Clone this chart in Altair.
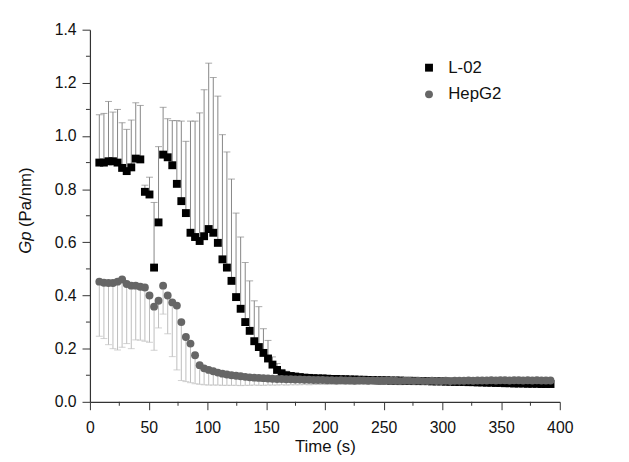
import altair as alt
import pandas as pd

# ---------------- data ----------------
time_s = [8.0, 11.9, 15.8, 19.6, 23.5, 27.4, 31.3, 35.2, 39.0, 42.9,
          46.8, 50.7, 54.6, 58.4, 62.3, 66.2, 70.1, 74.0, 77.8, 81.7,
          85.6, 89.5, 93.4, 97.2, 101.1, 105.0, 108.9, 112.8, 116.6, 120.5,
          124.4, 128.3, 132.2, 136.0, 139.9, 143.8, 147.7, 151.6, 155.4, 159.3,
          163.2, 167.1, 171.0, 174.8, 178.7, 182.6, 186.5, 190.4, 194.2, 198.1,
          202.0, 205.9, 209.8, 213.6, 217.5, 221.4, 225.3, 229.2, 233.0, 236.9,
          240.8, 244.7, 248.6, 252.4, 256.3, 260.2, 264.1, 268.0, 271.8, 275.7,
          279.6, 283.5, 287.4, 291.2, 295.1, 299.0, 302.9, 306.8, 310.6, 314.5,
          318.4, 322.3, 326.2, 330.0, 333.9, 337.8, 341.7, 345.6, 349.4, 353.3,
          357.2, 361.1, 365.0, 368.8, 372.7, 376.6, 380.5, 384.4, 388.2, 392.1]

l02_gp = [0.900, 0.900, 0.905, 0.905, 0.900, 0.880, 0.868, 0.882, 0.915, 0.912,
          0.790, 0.780, 0.505, 0.675, 0.930, 0.920, 0.890, 0.820, 0.755, 0.710,
          0.636, 0.620, 0.605, 0.623, 0.650, 0.636, 0.598, 0.536, 0.505, 0.455,
          0.394, 0.350, 0.300, 0.267, 0.228, 0.206, 0.184, 0.163, 0.140, 0.120,
          0.107, 0.100, 0.097, 0.095, 0.093, 0.091, 0.090, 0.089, 0.088, 0.088,
          0.087, 0.086, 0.086, 0.085, 0.085, 0.084, 0.084, 0.083, 0.083, 0.082,
          0.082, 0.081, 0.081, 0.081, 0.080, 0.080, 0.080, 0.079, 0.079, 0.079,
          0.078, 0.078, 0.078, 0.077, 0.077, 0.077, 0.076, 0.076, 0.075, 0.075,
          0.075, 0.074, 0.074, 0.073, 0.073, 0.072, 0.072, 0.071, 0.071, 0.070,
          0.070, 0.069, 0.069, 0.069, 0.068, 0.068, 0.068, 0.067, 0.067, 0.067]

l02_upper = [1.080, 1.085, 1.130, 1.090, 1.100, 1.050, 1.025, 1.060, 1.125, 1.115,
             0.815, 0.845, 0.750, 0.960, 1.108, 1.065, 1.058, 1.058, 1.056, 0.980,
             1.056, 1.056, 1.087, 1.174, 1.274, 1.220, 1.150, 1.005, 0.940, 0.838,
             0.710, 0.620, 0.524, 0.455, 0.380, 0.358, 0.275, 0.231, 0.169, 0.144,
             0.122, 0.115, 0.110, 0.106, 0.103, 0.101, 0.099, 0.098, 0.097, 0.097,
             0.096, 0.095, 0.095, 0.094, 0.094, 0.093, 0.093, 0.092, 0.092, 0.091,
             0.091, 0.090, 0.090, 0.090, 0.089, 0.089, 0.089, 0.088, 0.088, 0.088,
             0.087, 0.087, 0.087, 0.086, 0.086, 0.086, 0.085, 0.085, 0.084, 0.084,
             0.084, 0.083, 0.083, 0.082, 0.082, 0.081, 0.081, 0.080, 0.080, 0.079,
             0.079, 0.078, 0.078, 0.078, 0.077, 0.077, 0.077, 0.076, 0.076, 0.076]

hepg2_gp = [0.452, 0.448, 0.447, 0.447, 0.452, 0.460, 0.443, 0.437, 0.437, 0.433,
            0.430, 0.400, 0.358, 0.380, 0.437, 0.400, 0.374, 0.362, 0.300, 0.244,
            0.219, 0.175, 0.138, 0.126, 0.120, 0.115, 0.110, 0.106, 0.103, 0.100,
            0.098, 0.096, 0.094, 0.092, 0.091, 0.090, 0.089, 0.088, 0.087, 0.086,
            0.086, 0.085, 0.085, 0.084, 0.084, 0.083, 0.083, 0.082, 0.082, 0.082,
            0.081, 0.081, 0.080, 0.081, 0.080, 0.080, 0.079, 0.080, 0.080, 0.079,
            0.080, 0.079, 0.079, 0.080, 0.079, 0.079, 0.078, 0.079, 0.079, 0.078,
            0.079, 0.078, 0.078, 0.079, 0.078, 0.078, 0.079, 0.078, 0.079, 0.079,
            0.079, 0.080, 0.079, 0.080, 0.080, 0.080, 0.081, 0.080, 0.081, 0.081,
            0.080, 0.081, 0.081, 0.080, 0.081, 0.080, 0.081, 0.080, 0.080, 0.080]

hepg2_lower = [0.247, 0.238, 0.215, 0.200, 0.195, 0.205, 0.219, 0.200, 0.233, 0.232,
               0.228, 0.224, 0.194, 0.278, 0.330, 0.256, 0.170, 0.120, 0.080, 0.076,
               0.072, 0.068, 0.066, 0.064, 0.063, 0.063, 0.063, 0.062, 0.062, 0.062,
               0.062, 0.061, 0.062, 0.062, 0.063, 0.062, 0.062, 0.063, 0.063, 0.063,
               0.064, 0.063, 0.064, 0.064, 0.064, 0.065, 0.064, 0.065, 0.065, 0.065,
               0.065, 0.066, 0.065, 0.066, 0.066, 0.066, 0.065, 0.066, 0.066, 0.065,
               0.066, 0.065, 0.065, 0.066, 0.065, 0.065, 0.064, 0.065, 0.065, 0.064,
               0.065, 0.064, 0.064, 0.065, 0.064, 0.064, 0.065, 0.064, 0.065, 0.065,
               0.065, 0.066, 0.065, 0.066, 0.066, 0.066, 0.067, 0.066, 0.067, 0.067,
               0.066, 0.067, 0.067, 0.066, 0.067, 0.066, 0.067, 0.066, 0.066, 0.066]

series_names = ["L-02", "HepG2"]
series_colors = ["#000000", "#666666"]
series_shapes = ["square", "circle"]

x_ticks = [0, 50, 100, 150, 200, 250, 300, 350, 400]
x_minor = [25, 75, 125, 175, 225, 275, 325, 375]
y_ticks = [0.0, 0.2, 0.4, 0.6, 0.8, 1.0, 1.2, 1.4]
y_minor = [0.1, 0.3, 0.5, 0.7, 0.9, 1.1, 1.3]

# ---------------- tables ----------------
n = len(time_s)
df = pd.DataFrame({
    "t": time_s + time_s,
    "gp": l02_gp + hepg2_gp,
    "err": l02_upper + hepg2_lower,
    "series": [series_names[0]] * n + [series_names[1]] * n,
    "ord": [0] * n + [1] * n,
})
df_l02 = df[df.series == series_names[0]]
df_hep = df[df.series == series_names[1]]

W, H = 476, 377
FONT = "Liberation Sans"
AX = "#333333"
TXT = "#111111"

xs = alt.Scale(domain=[0, 400], nice=False, zero=False)
ys = alt.Scale(domain=[0, 1.4], nice=False, zero=False)

x_axis = alt.Axis(values=x_ticks, tickSize=8, labelPadding=10, title="Time (s)",
                  titlePadding=3, labelFlush=False, format="d", grid=False,
                  domainColor=AX, domainWidth=1.2, tickColor=AX, tickWidth=1,
                  labelFont=FONT, labelFontSize=16, labelColor=TXT,
                  titleFont=FONT, titleFontSize=17, titleFontWeight="normal",
                  titleColor=TXT)
y_axis = alt.Axis(values=y_ticks, tickSize=8, labelPadding=6, title=None,
                  format=".1f", labelFlush=False, grid=False,
                  domainColor=AX, domainWidth=1.2, tickColor=AX, tickWidth=1,
                  labelFont=FONT, labelFontSize=16, labelColor=TXT)


def bars(d, color):
    rule = alt.Chart(d).mark_rule(color=color, strokeWidth=1).encode(
        x=alt.X("t:Q", scale=xs, axis=x_axis),
        y=alt.Y("gp:Q", scale=ys, axis=y_axis),
        y2="err:Q",
    )
    cap = alt.Chart(d).mark_tick(color=color, orient="horizontal", size=7, thickness=1).encode(
        x=alt.X("t:Q", scale=xs),
        y=alt.Y("err:Q", scale=ys),
    )
    return rule + cap


l02_bars = bars(df_l02, "#858585")
hep_bars = bars(df_hep, "#bdbdbd")

points = alt.Chart(df).mark_point(filled=True, size=64, opacity=1, strokeWidth=0).encode(
    x=alt.X("t:Q", scale=xs),
    y=alt.Y("gp:Q", scale=ys),
    color=alt.Color("series:N", scale=alt.Scale(domain=series_names, range=series_colors),
                    legend=alt.Legend(title=None, orient="none", legendX=335, legendY=30,
                                      labelFontSize=17, labelFont=FONT, labelOffset=11,
                                      symbolSize=64, rowPadding=9, padding=0,
                                      labelColor=TXT, symbolStrokeWidth=0)),
    shape=alt.Shape("series:N", scale=alt.Scale(domain=series_names, range=series_shapes)),
    order=alt.Order("ord:Q"),
)

xm = alt.Chart(pd.DataFrame({"v": x_minor})).mark_rule(color=AX, strokeWidth=1).encode(
    x=alt.X("v:Q", scale=xs), y=alt.value(H), y2=alt.value(H + 4))
ym = alt.Chart(pd.DataFrame({"v": y_minor})).mark_rule(color=AX, strokeWidth=1).encode(
    y=alt.Y("v:Q", scale=ys), x=alt.value(0), x2=alt.value(-4))

t1 = alt.Chart(pd.DataFrame({"s": ["Gp"]})).mark_text(
    angle=270, align="left", baseline="middle", font=FONT, fontSize=17,
    fontStyle="italic", color=TXT).encode(
    text="s:N", x=alt.value(-65), y=alt.value(227))
t2 = alt.Chart(pd.DataFrame({"s": ["(Pa/nm)"]})).mark_text(
    angle=270, align="left", baseline="middle", font=FONT, fontSize=17,
    color=TXT).encode(
    text="s:N", x=alt.value(-65), y=alt.value(200))

chart = alt.layer(l02_bars, hep_bars, points, xm, ym, t1, t2).properties(
    width=W, height=H,
    background="white",
    autosize=alt.AutoSizeParams(type="none"),
    padding={"left": 83, "top": 19, "right": 62, "bottom": 58},
).configure_view(stroke=None)

chart.save("out.html", embed_options={"renderer": "svg", "actions": False})
